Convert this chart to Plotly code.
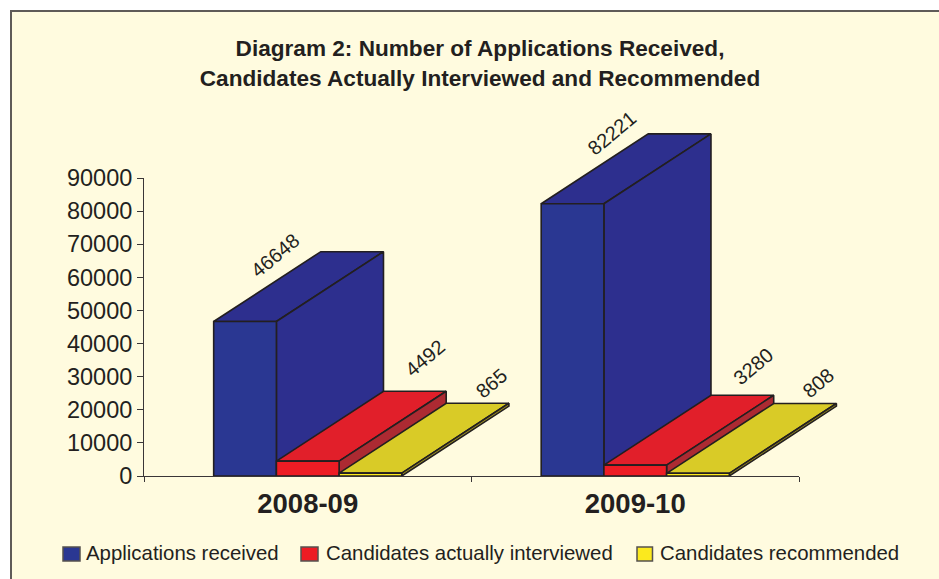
import plotly.graph_objects as go

WIDTH, HEIGHT = 939, 579

# Chart data
years = ["2008-09", "2009-10"]
series_names = ["Applications received", "Candidates actually interviewed", "Candidates recommended"]
applications = [46648, 82221]
interviewed = [4492, 3280]
recommended = [865, 808]
y_ticks = [0, 10000, 20000, 30000, 40000, 50000, 60000, 70000, 80000, 90000]

# Extrusion and bar geometry, in axis units
BAR_W = 0.1915
DEPTH_X = 0.327
DEPTH_Y = 21100
EDGE = 1.6

# Face colours per series: front, top, side
FACES = [
    ("#2a3792", "#2d2f8e", "#2d2f8e"),
    ("#ed1c24", "#e11f2a", "#ac2a32"),
    ("#fbe91e", "#d9cb27", "#a89a20"),
]
INK = "#231f20"
AXIS = "#3a3637"
# Pixel nudges of the value labels from each block's rear corner
LABEL_SHIFT = [
    [(-108, -3), (-99, 1)],
    [(-21, 33), (-20, 29)],
    [(-17, 20), (-18, 20)],
]

# Plot box: the visible axes sit in part of it, the extruded faces use all of it
LEFT, RIGHT, TOP, BOTTOM = 144, 860, 110, 476
AXIS_RIGHT, AXIS_TOP = 799, 178
box_w, box_h = RIGHT - LEFT, BOTTOM - TOP
axis_w, axis_h = AXIS_RIGHT - LEFT, BOTTOM - AXIS_TOP
x_frac, y_frac = axis_w / box_w, axis_h / box_h

fig = go.Figure()
all_values = [applications, interviewed, recommended]
annotations = []

# Rear faces go on the hidden, extended subplot, which is painted first
for s, values in enumerate(all_values):
    front, top, side = FACES[s]
    for g, v in enumerate(values):
        x0 = g + 0.5 + (s - 1.5) * BAR_W
        x1 = x0 + BAR_W
        # Top face of the block
        fig.add_trace(go.Scatter(
            x=[x0, x1, x1 + DEPTH_X, x0 + DEPTH_X, x0],
            y=[v, v, v + DEPTH_Y, v + DEPTH_Y, v],
            mode="lines", fill="toself", fillcolor=top,
            line=dict(color=INK, width=EDGE),
            showlegend=False, hoverinfo="skip",
        ))
        # Right-hand side face of the block
        fig.add_trace(go.Scatter(
            x=[x1, x1 + DEPTH_X, x1 + DEPTH_X, x1, x1],
            y=[0, DEPTH_Y, v + DEPTH_Y, v, 0],
            mode="lines", fill="toself", fillcolor=side,
            line=dict(color=INK, width=EDGE),
            showlegend=False, hoverinfo="skip",
        ))
        dx, dy = LABEL_SHIFT[s][g]
        annotations.append(dict(
            x=x1 + DEPTH_X, y=v + DEPTH_Y, xref="x", yref="y",
            text=str(v), showarrow=False, textangle=-40,
            xshift=dx, yshift=dy,
            font=dict(family="Liberation Sans", size=20, color=INK),
        ))

# Front faces sit on the visible axes, above the rear faces
for s, values in enumerate(all_values):
    centers = [g + 0.5 + (s - 1) * BAR_W for g in range(len(years))]
    fig.add_trace(go.Bar(
        x=centers, y=values, width=BAR_W, xaxis="x2", yaxis="y2",
        marker=dict(color=FACES[s][0], line=dict(color=INK, width=EDGE)),
        name=series_names[s], showlegend=False, hoverinfo="skip",
    ))

# Page-pixel helpers: paper coordinates are fractions of the plot box
def px(x):
    return (x - LEFT) / box_w

def py(y):
    return (BOTTOM - y) / box_h

shapes = [dict(
    type="rect", xref="paper", yref="paper", layer="below",
    x0=px(11), x1=px(WIDTH + 10), y0=py(HEIGHT + 10), y1=py(11),
    fillcolor="#fffbdf", line=dict(color="#5f5b58", width=2),
)]

# Legend row along the bottom of the panel
swatch_left = [63, 301, 637]
swatch_width = [17, 17, 15.5]
legend_text_x = [84, 324, 658]
for s, name in enumerate(series_names):
    shapes.append(dict(
        type="rect", xref="paper", yref="paper",
        x0=px(swatch_left[s]), x1=px(swatch_left[s] + swatch_width[s]),
        y0=py(561), y1=py(547),
        fillcolor=FACES[s][0], line=dict(color="#55514f", width=1.5),
    ))
    annotations.append(dict(
        x=px(legend_text_x[s]), y=py(553), xref="paper", yref="paper",
        text=name, showarrow=False, xanchor="left", yanchor="middle",
        font=dict(family="Liberation Sans", size=20.4, color=INK),
    ))

fig.update_layout(
    width=WIDTH, height=HEIGHT, autosize=False,
    margin=dict(l=LEFT, r=WIDTH - RIGHT, t=TOP, b=HEIGHT - BOTTOM),
    paper_bgcolor="#ffffff", plot_bgcolor="rgba(0,0,0,0)",
    barmode="overlay", showlegend=False,
    title=dict(
        text='<span style="font-size:22.6px">Diagram 2: Number of Applications Received,<br>'
             'Candidates Actually Interviewed and Recommended</span>',
        x=480 / WIDTH, xanchor="center", y=1 - 56 / HEIGHT, yanchor="middle",
        font=dict(family="Liberation Sans", size=23, color=INK, weight="bold"),
    ),
    # Same scale as the visible axes, extended to hold the rear of the tall blocks
    xaxis=dict(domain=[0, 1], range=[0, 2 / x_frac], anchor="y", visible=False),
    yaxis=dict(domain=[0, 1], range=[0, 90000 / y_frac], anchor="x", visible=False),
    xaxis2=dict(
        domain=[0, x_frac], range=[0, 2], anchor="y2", tickmode="array", tickvals=[0.5, 1.5], ticktext=years,
        ticks="", ticklabelstandoff=3, showgrid=False, zeroline=False,
        showline=True, linecolor=AXIS, linewidth=1,
        tickfont=dict(family="Liberation Sans", size=27.5, color=INK, weight="bold"),
        minor=dict(tickmode="array", tickvals=[0, 1, 2], ticks="outside",
                   ticklen=5, tickcolor=AXIS, tickwidth=1, showgrid=False),
    ),
    yaxis2=dict(
        domain=[0, y_frac], range=[0, 90000], anchor="x2", tickmode="array", tickvals=y_ticks, tickformat="d",
        ticks="outside", ticklen=6, tickcolor=AXIS, tickwidth=1,
        showgrid=False, zeroline=False, showline=True, linecolor=AXIS, linewidth=1,
        tickfont=dict(family="Liberation Sans", size=23.5, color=INK),
    ),
    shapes=shapes,
    annotations=annotations,
)

fig.write_html("out.html")
